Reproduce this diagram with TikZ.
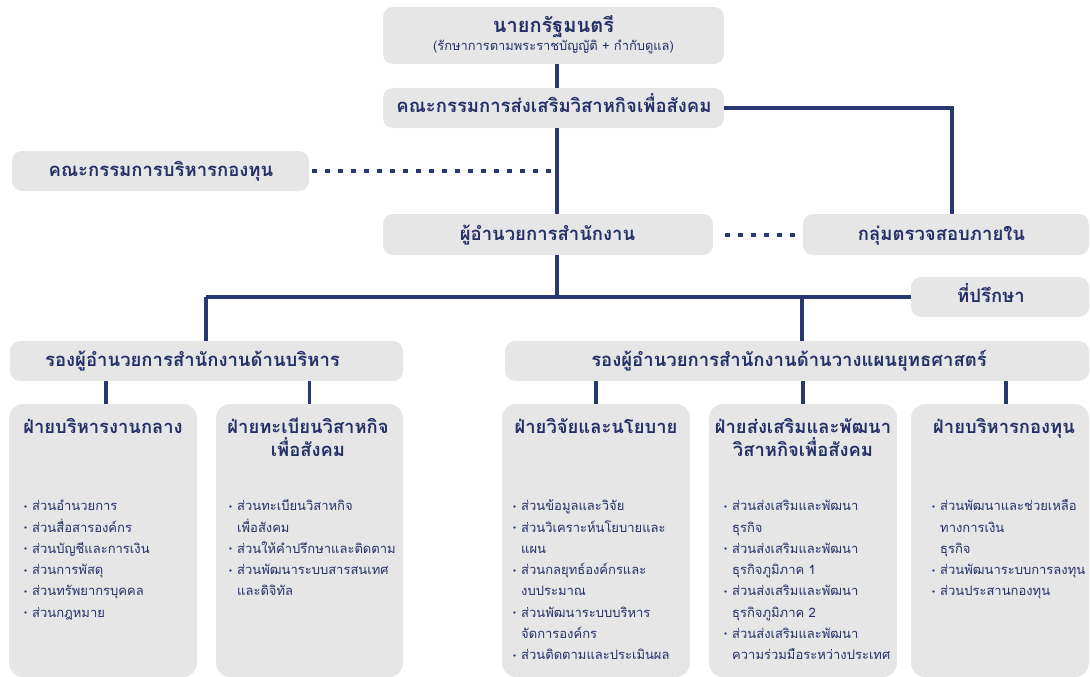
\documentclass[tikz,border=0pt]{standalone}
\usepackage{fontspec}
\setmainfont[Script=Thai]{Loma}
\definecolor{navy}{RGB}{36,48,104}
\definecolor{lnavy}{RGB}{40,56,115}
\definecolor{boxg}{RGB}{230,230,230}
\newcommand\bul{\makebox[8pt][l]{\raisebox{0.2em}{\scalebox{0.5}{$\bullet$}}}}
\newcommand\ind{\hspace*{8pt}}
\newcommand\fs[1]{\rule{0pt}{#1}}
\begin{document}
\begin{tikzpicture}[x=1pt,y=-1pt,
  box/.style={fill=boxg, rounded corners=10pt, inner sep=0pt, draw=none},
  dbox/.style={box, rounded corners=14pt},
  hd/.style={inner sep=0pt, text=navy, anchor=base, font=\bfseries\fontsize{18.5}{22}\selectfont},
  tl/.style={inner sep=0pt, text=navy, anchor=north, align=center, font=\bfseries\fontsize{18.4}{23}\selectfont},
  lst/.style={inner sep=0pt, text=navy, anchor=north west, align=left, font=\fontsize{13}{21.3}\selectfont},
  ln/.style={draw=lnavy, line width=3.5pt},
  dotl/.style={draw=lnavy, line width=4pt, dash pattern=on 5pt off 8pt}]
\useasboundingbox (0,0) rectangle (1090,677);

% boxes
\node[box, minimum width=341, minimum height=57] (pm) at (553.5,35.5) {};
\node[box, minimum width=341, minimum height=40] (comm) at (553.5,108) {};
\node[box, minimum width=297, minimum height=40] (fund) at (160.5,171) {};
\node[box, minimum width=330, minimum height=41] (dir) at (548,234.5) {};
\node[box, minimum width=286, minimum height=41] (aud) at (946,234.5) {};
\node[box, minimum width=178, minimum height=40] (adv) at (1000,297) {};
\node[box, minimum width=393, minimum height=40] (dadm) at (206.5,361) {};
\node[box, minimum width=584, minimum height=40] (dstr) at (797,361) {};
\node[dbox, minimum width=188, minimum height=273] (d1) at (103,540.5) {};
\node[dbox, minimum width=187, minimum height=273] (d2) at (309.5,540.5) {};
\node[dbox, minimum width=188, minimum height=273] (d3) at (596,540.5) {};
\node[dbox, minimum width=188, minimum height=273] (d4) at (803,540.5) {};
\node[dbox, minimum width=178, minimum height=273] (d5) at (1000,540.5) {};

% texts
\node[hd, font=\bfseries\fontsize{20}{24}\selectfont] (pmt) at (553.5,32.5) {นายกรัฐมนตรี};
\node[hd, font=\fontsize{12.9}{15}\selectfont] (pms) at (553.5,50.5) {(รักษาการตามพระราชบัญญัติ + กำกับดูแล)};
\node[hd] (commt) at (554,113) {คณะกรรมการส่งเสริมวิสาหกิจเพื่อสังคม};
\node[hd] (fundt) at (161,176) {คณะกรรมการบริหารกองทุน};
\node[hd] (dirt) at (547.5,240) {ผู้อำนวยการสำนักงาน};
\node[hd] (audt) at (941.5,240) {กลุ่มตรวจสอบภายใน};
\node[hd] (advt) at (991,302) {ที่ปรึกษา};
\node[hd] (dadmt) at (192.5,366) {รองผู้อำนวยการสำนักงานด้านบริหาร};
\node[hd] (dstrt) at (789,366) {รองผู้อำนวยการสำนักงานด้านวางแผนยุทธศาสตร์};

\node[tl] (t1) at (103,414) {\fs{19pt}ฝ่ายบริหารงานกลาง};
\node[tl] (t2) at (308,414) {\fs{19pt}ฝ่ายทะเบียนวิสาหกิจ\\เพื่อสังคม};
\node[tl] (t3) at (596,414) {\fs{19pt}ฝ่ายวิจัยและนโยบาย};
\node[tl] (t4) at (803,414) {\fs{19pt}ฝ่ายส่งเสริมและพัฒนา\\วิสาหกิจเพื่อสังคม};
\node[tl] (t5) at (1004,414) {\fs{19pt}ฝ่ายบริหารกองทุน};

\node[lst] (l1) at (24,496.5) {\fs{14pt}\bul ส่วนอำนวยการ\\
\bul ส่วนสื่อสารองค์กร\\
\bul ส่วนบัญชีและการเงิน\\
\bul ส่วนการพัสดุ\\
\bul ส่วนทรัพยากรบุคคล\\
\bul ส่วนกฎหมาย};
\node[lst] (l2) at (229,496.5) {\fs{14pt}\bul ส่วนทะเบียนวิสาหกิจ\\
\ind เพื่อสังคม\\
\bul ส่วนให้คำปรึกษาและติดตาม\\
\bul ส่วนพัฒนาระบบสารสนเทศ\\
\ind และดิจิทัล};
\node[lst] (l3) at (513,496.5) {\fs{14pt}\bul ส่วนข้อมูลและวิจัย\\
\bul ส่วนวิเคราะห์นโยบายและ\\
\ind แผน\\
\bul ส่วนกลยุทธ์องค์กรและ\\
\ind งบประมาณ\\
\bul ส่วนพัฒนาระบบบริหาร\\
\ind จัดการองค์กร\\
\bul ส่วนติดตามและประเมินผล};
\node[lst] (l4) at (724,496.5) {\fs{14pt}\bul ส่วนส่งเสริมและพัฒนา\\
\ind ธุรกิจ\\
\bul ส่วนส่งเสริมและพัฒนา\\
\ind ธุรกิจภูมิภาค 1\\
\bul ส่วนส่งเสริมและพัฒนา\\
\ind ธุรกิจภูมิภาค 2\\
\bul ส่วนส่งเสริมและพัฒนา\\
\ind ความร่วมมือระหว่างประเทศ};
\node[lst] (l5) at (932,496.5) {\fs{14pt}\bul ส่วนพัฒนาและช่วยเหลือ\\
\ind ทางการเงิน\\
\ind ธุรกิจ\\
\bul ส่วนพัฒนาระบบการลงทุน\\
\bul ส่วนประสานกองทุน};

% connectors
\coordinate (sp) at (557,0);
\coordinate (hl) at (206,297);
\coordinate (hr) at (802,297);
\coordinate (ar) at (952,108);
\draw[ln] (pm.south -| sp) -- (comm.north -| sp);
\draw[ln] (comm.south -| sp) -- (dir.north -| sp);
\draw[ln] (dir.south -| sp) -- (sp |- hl);
\draw[ln] (hl) -- (adv.west);
\draw[ln] (hl) -- (dadm.north -| hl);
\draw[ln] (hr) -- (dstr.north -| hr);
\draw[ln] (comm.east) -- (ar) -- (aud.north -| ar);
\draw[dotl, shorten <=3pt] (fund.east) -- (fund.east -| sp);
\draw[dotl, shorten <=12pt, shorten >=3pt] (dir.east) -- (aud.west);
\draw[ln] ([xshift=3pt]d1.north) -- ([xshift=3pt]d1.north |- dadm.south);
\draw[ln] (d2.north) -- (d2.north |- dadm.south);
\draw[ln] (d3.north) -- (d3.north |- dstr.south);
\draw[ln] (d4.north) -- (d4.north |- dstr.south);
\draw[ln] ([xshift=6pt]d5.north) -- ([xshift=6pt]d5.north |- dstr.south);
\end{tikzpicture}
\end{document}
